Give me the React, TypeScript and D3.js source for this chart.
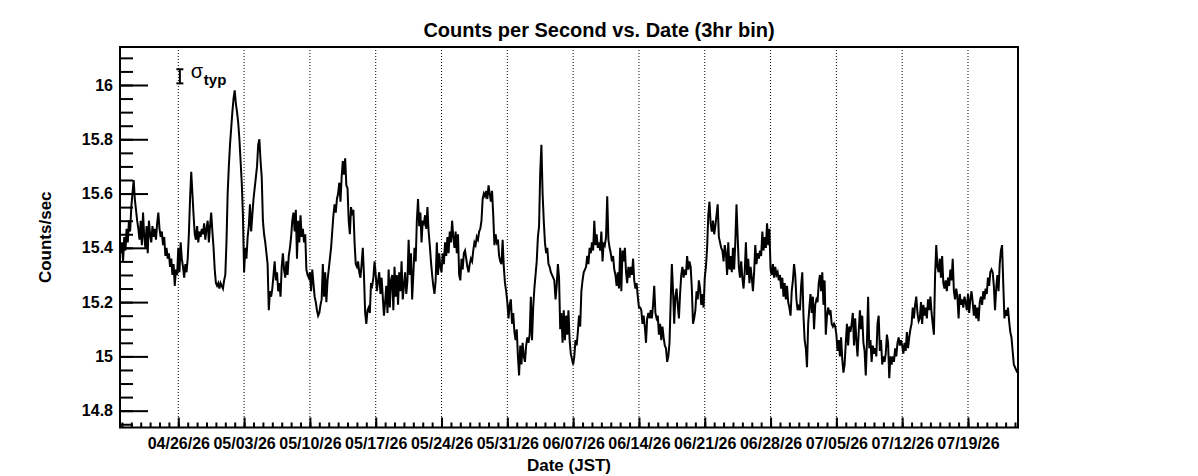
import { useEffect, useRef } from "react"
import * as d3 from "d3"

// first 3hr bin (UTC used as JST wall clock)
const firstBin = Date.UTC(2026, 3, 19, 21)
const binHours = 3
const xDomain = [new Date(Date.UTC(2026, 3, 19, 19, 10)), new Date(Date.UTC(2026, 6, 24, 7, 40))]
const yDomain = [14.738, 16.14]

// counts/sec, one row per day: 00h 03h 06h 09h 12h 15h 18h 21h
const countsPerSec: number[] = [
  15.38, // 04/19 21h
  15.42, 15.35, 15.44, 15.39, 15.47, 15.42, 15.50, 15.46, // 04/20
  15.55, 15.60, 15.65, 15.58, 15.54, 15.50, 15.47, 15.43,
  15.50, 15.41, 15.53, 15.44, 15.40, 15.48, 15.38, 15.50,
  15.45, 15.42, 15.48, 15.44, 15.47, 15.43, 15.49, 15.53,
  15.47, 15.44, 15.46, 15.41, 15.44, 15.37, 15.40, 15.36,
  15.38, 15.33, 15.36, 15.30, 15.34, 15.26, 15.32, 15.30, // 04/25
  15.40, 15.31, 15.42, 15.36, 15.33, 15.29, 15.34, 15.31,
  15.36, 15.45, 15.58, 15.68, 15.60, 15.52, 15.45, 15.43,
  15.48, 15.42, 15.46, 15.44, 15.47, 15.45, 15.49, 15.43,
  15.47, 15.50, 15.42, 15.48, 15.53, 15.46, 15.40, 15.32,
  15.27, 15.26, 15.27, 15.25, 15.27, 15.26, 15.25, 15.28, // 04/30
  15.30, 15.42, 15.60, 15.70, 15.78, 15.84, 15.90, 15.95,
  15.98, 15.93, 15.90, 15.86, 15.80, 15.72, 15.64, 15.52,
  15.31, 15.40, 15.36, 15.44, 15.48, 15.56, 15.46, 15.52,
  15.58, 15.62, 15.66, 15.70, 15.78, 15.80, 15.72, 15.66,
  15.50, 15.45, 15.42, 15.38, 15.34, 15.17, 15.24, 15.22, // 05/05
  15.25, 15.30, 15.35, 15.28, 15.31, 15.24, 15.27, 15.22,
  15.33, 15.38, 15.32, 15.29, 15.35, 15.30, 15.37, 15.40,
  15.44, 15.50, 15.53, 15.46, 15.54, 15.36, 15.50, 15.42,
  15.52, 15.44, 15.47, 15.42, 15.45, 15.32, 15.30, 15.29,
  15.31, 15.24, 15.32, 15.27, 15.22, 15.20, 15.17, 15.15, // 05/10
  15.16, 15.19, 15.21, 15.34, 15.22, 15.31, 15.20, 15.28,
  15.32, 15.36, 15.40, 15.46, 15.52, 15.56, 15.53, 15.58,
  15.60, 15.64, 15.57, 15.66, 15.72, 15.67, 15.73, 15.63,
  15.62, 15.50, 15.45, 15.55, 15.52, 15.54, 15.42, 15.34,
  15.33, 15.35, 15.31, 15.29, 15.34, 15.40, 15.30, 15.16, // 05/15
  15.12, 15.17, 15.18, 15.16, 15.27, 15.26, 15.29, 15.35,
  15.30, 15.24, 15.28, 15.31, 15.23, 15.29, 15.22, 15.15,
  15.20, 15.26, 15.16, 15.32, 15.18, 15.28, 15.30, 15.17,
  15.33, 15.22, 15.30, 15.19, 15.31, 15.24, 15.35, 15.21,
  15.26, 15.31, 15.23, 15.28, 15.43, 15.30, 15.38, 15.21, // 05/20
  15.30, 15.40, 15.35, 15.50, 15.58, 15.48, 15.53, 15.42,
  15.50, 15.49, 15.52, 15.47, 15.55, 15.46, 15.41, 15.35,
  15.30, 15.26, 15.23, 15.28, 15.42, 15.30, 15.38, 15.33,
  15.31, 15.38, 15.34, 15.42, 15.37, 15.44, 15.38, 15.46,
  15.42, 15.50, 15.44, 15.40, 15.46, 15.38, 15.45, 15.30, // 05/25
  15.28, 15.36, 15.32, 15.38, 15.39, 15.36, 15.33, 15.31,
  15.34, 15.36, 15.35, 15.39, 15.42, 15.41, 15.44, 15.43,
  15.46, 15.47, 15.50, 15.58, 15.60, 15.59, 15.61, 15.58,
  15.63, 15.60, 15.57, 15.61, 15.52, 15.41, 15.45, 15.42,
  15.43, 15.37, 15.35, 15.34, 15.43, 15.33, 15.27, 15.24, // 05/30
  15.20, 15.14, 15.19, 15.21, 15.12, 15.16, 15.09, 15.06,
  15.10, 15.00, 14.93, 15.04, 14.97, 15.05, 15.00, 14.98,
  15.04, 15.07, 15.05, 15.08, 15.22, 15.06, 15.18, 15.25,
  15.30, 15.35, 15.44, 15.48, 15.68, 15.78, 15.60, 15.50,
  15.42, 15.38, 15.40, 15.34, 15.33, 15.31, 15.30, 15.29, // 06/04
  15.28, 15.21, 15.26, 15.34, 15.29, 15.10, 15.16, 15.05,
  15.17, 15.06, 15.15, 15.08, 15.17, 15.06, 15.01, 14.99,
  14.97, 15.00, 15.06, 15.04, 15.09, 15.15, 15.11, 15.24,
  15.28, 15.31, 15.32, 15.33, 15.37, 15.34, 15.40, 15.38,
  15.42, 15.39, 15.50, 15.41, 15.45, 15.40, 15.42, 15.39, // 06/09
  15.46, 15.35, 15.42, 15.41, 15.44, 15.59, 15.43, 15.40,
  15.38, 15.35, 15.37, 15.32, 15.30, 15.26, 15.31, 15.25,
  15.40, 15.24, 15.39, 15.35, 15.40, 15.31, 15.27, 15.33,
  15.29, 15.33, 15.30, 15.36, 15.28, 15.25, 15.27, 15.22,
  15.18, 15.18, 15.17, 15.12, 15.15, 15.11, 15.05, 15.14, // 06/14
  15.16, 15.14, 15.17, 15.14, 15.19, 15.26, 15.16, 15.14,
  15.15, 15.08, 15.12, 15.06, 15.11, 15.07, 15.04, 15.03,
  14.98, 15.00, 15.05, 15.20, 15.34, 15.24, 15.12, 15.22,
  15.25, 15.19, 15.14, 15.23, 15.30, 15.33, 15.29, 15.32,
  15.30, 15.37, 15.32, 15.35, 15.33, 15.25, 15.12, 15.14, // 06/19
  15.17, 15.24, 15.21, 15.28, 15.25, 15.19, 15.23, 15.18,
  15.29, 15.33, 15.40, 15.52, 15.57, 15.49, 15.46, 15.50,
  15.45, 15.48, 15.52, 15.56, 15.44, 15.42, 15.40, 15.39,
  15.35, 15.41, 15.38, 15.30, 15.42, 15.32, 15.37, 15.31,
  15.40, 15.32, 15.42, 15.56, 15.44, 15.33, 15.29, 15.35, // 06/24
  15.29, 15.25, 15.31, 15.42, 15.30, 15.36, 15.27, 15.33,
  15.29, 15.24, 15.31, 15.41, 15.34, 15.38, 15.36, 15.39,
  15.37, 15.46, 15.39, 15.44, 15.40, 15.49, 15.41, 15.47,
  15.32, 15.30, 15.34, 15.29, 15.33, 15.30, 15.31, 15.28,
  15.30, 15.25, 15.29, 15.22, 15.27, 15.21, 15.26, 15.20, // 06/29
  15.18, 15.15, 15.24, 15.28, 15.34, 15.30, 15.21, 15.17,
  15.19, 15.17, 15.26, 15.31, 15.15, 15.06, 15.03, 14.96,
  15.12, 15.18, 15.23, 15.16, 15.22, 15.10, 15.19, 15.21,
  15.20, 15.27, 15.30, 15.24, 15.31, 15.19, 15.28, 15.08,
  15.15, 15.18, 15.16, 15.17, 15.12, 15.11, 15.12, 15.11, // 07/04
  15.08, 15.02, 15.06, 15.00, 15.07, 14.99, 14.94, 14.97,
  15.05, 15.12, 15.04, 15.11, 15.09, 15.12, 15.16, 15.04,
  15.14, 15.06, 15.00, 15.09, 15.17, 15.10, 15.15, 15.05,
  15.02, 14.93, 15.05, 15.22, 15.03, 15.06, 14.98, 15.04,
  15.01, 15.03, 15.00, 15.12, 15.15, 15.02, 15.06, 14.97, // 07/09
  15.00, 14.98, 15.01, 15.08, 15.05, 14.92, 15.00, 14.97,
  15.00, 14.98, 15.03, 15.00, 15.05, 15.07, 15.04, 15.06,
  15.04, 15.01, 15.05, 15.02, 15.09, 15.03, 15.07, 15.10,
  15.12, 15.18, 15.14, 15.19, 15.22, 15.16, 15.13, 15.14,
  15.20, 15.12, 15.19, 15.15, 15.18, 15.14, 15.21, 15.17, // 07/14
  15.22, 15.16, 15.12, 15.08, 15.30, 15.41, 15.33, 15.31,
  15.36, 15.29, 15.37, 15.27, 15.25, 15.28, 15.24, 15.29,
  15.26, 15.32, 15.28, 15.36, 15.24, 15.21, 15.25, 15.22,
  15.14, 15.23, 15.19, 15.21, 15.18, 15.22, 15.20, 15.17,
  15.23, 15.16, 15.21, 15.24, 15.20, 15.15, 15.19, 15.14, // 07/19
  15.18, 15.13, 15.20, 15.22, 15.19, 15.24, 15.21, 15.25,
  15.23, 15.29, 15.26, 15.31, 15.32, 15.31, 15.26, 15.17,
  15.25, 15.30, 15.24, 15.34, 15.39, 15.41, 15.27, 15.14,
  15.17, 15.15, 15.18, 15.13, 15.09, 15.07, 15.02, 14.97,
  14.96, 14.95, 14.94, // 07/24
]

const yMajorTicks = [14.8, 15, 15.2, 15.4, 15.6, 15.8, 16]
const yMinorTicks = d3.range(295, 323).map((k) => k * 0.05)
const xTickFormat = "%m/%d/%y"

const sigmaTypCenter = 16.032
const sigmaTypHalf = 0.026
const sigmaTypDate = Date.UTC(2026, 3, 26, 4)

const font = "'Liberation Sans', Arial, Helvetica, sans-serif"

export default function App() {
  const svgRef = useRef<SVGSVGElement>(null)

  useEffect(() => {
    if (!svgRef.current) return

    const width = 1198
    const height = 476
    const margin = { top: 47, right: 180, bottom: 48.5, left: 120 }
    const innerWidth = width - margin.left - margin.right
    const innerHeight = height - margin.top - margin.bottom

    const svg = d3.select(svgRef.current).attr("width", width).attr("height", height)
    svg.selectAll("*").remove()

    svg.append("rect").attr("width", width).attr("height", height).attr("fill", "#fff")

    const g = svg.append("g").attr("transform", `translate(${margin.left},${margin.top})`)

    const xScale = d3.scaleUtc().domain(xDomain).range([0, innerWidth])
    const yScale = d3.scaleLinear().domain(yDomain).range([innerHeight, 0])

    const weeks = d3.utcSunday.range(xDomain[0], xDomain[1])
    const days = d3.utcDay.range(xDomain[0], xDomain[1])

    // dotted vertical grid at the weekly ticks
    g.selectAll(".grid")
      .data(weeks)
      .enter()
      .append("line")
      .attr("x1", (d) => xScale(d))
      .attr("x2", (d) => xScale(d))
      .attr("y1", 0)
      .attr("y2", innerHeight)
      .attr("stroke", "#000")
      .attr("stroke-width", 1)
      .attr("stroke-dasharray", "1,2")

    const points = countsPerSec.map((v, i) => ({ t: new Date(firstBin + i * binHours * 3600e3), v }))
    const line = d3
      .line<{ t: Date; v: number }>()
      .x((d) => xScale(d.t))
      .y((d) => yScale(d.v))

    g.append("path")
      .datum(points)
      .attr("d", line)
      .attr("fill", "none")
      .attr("stroke", "#000")
      .attr("stroke-width", 2)

    const styleAxis = (sel: d3.Selection<SVGGElement, unknown, null, undefined>) => {
      sel.select(".domain").remove()
      sel.selectAll("line").attr("stroke", "#000").attr("stroke-width", 2)
      sel.selectAll("text")
        .attr("fill", "#000")
        .attr("font-family", font)
        .attr("font-weight", "bold")
        .attr("font-size", "16px")
    }

    g.append("g")
      .attr("transform", `translate(0,${innerHeight})`)
      .call(d3.axisBottom(xScale).tickValues(days).tickSize(-5).tickFormat(() => ""))
      .call(styleAxis)

    g.append("g")
      .attr("transform", `translate(0,${innerHeight})`)
      .call(
        d3
          .axisBottom(xScale)
          .tickValues(weeks)
          .tickSize(-10)
          .tickPadding(10.5)
          .tickFormat((d) => d3.utcFormat(xTickFormat)(d as Date))
      )
      .call(styleAxis)

    g.append("g")
      .call(d3.axisLeft(yScale).tickValues(yMinorTicks).tickSize(-13).tickFormat(() => ""))
      .call(styleAxis)

    g.append("g")
      .call(d3.axisLeft(yScale).tickValues(yMajorTicks).tickSize(-28).tickPadding(7).tickFormat(d3.format("~g")))
      .call(styleAxis)

    g.append("rect")
      .attr("width", innerWidth)
      .attr("height", innerHeight)
      .attr("fill", "none")
      .attr("stroke", "#000")
      .attr("stroke-width", 2)

    // sigma_typ marker
    const sx = xScale(new Date(sigmaTypDate))
    const sTop = yScale(sigmaTypCenter + sigmaTypHalf)
    const sBot = yScale(sigmaTypCenter - sigmaTypHalf)
    const sig = g.append("g").attr("stroke", "#000").attr("stroke-width", 2)
    sig.append("line").attr("x1", sx).attr("x2", sx).attr("y1", sTop).attr("y2", sBot)
    sig.append("line").attr("x1", sx - 3.5).attr("x2", sx + 3.5).attr("y1", sTop).attr("y2", sTop)
    sig.append("line").attr("x1", sx - 3.5).attr("x2", sx + 3.5).attr("y1", sBot).attr("y2", sBot)

    g.append("text")
      .attr("x", sx + 11)
      .attr("y", sTop + 9)
      .attr("font-family", font)
      .attr("font-size", "20px")
      .text("σ")
    g.append("text")
      .attr("x", sx + 24)
      .attr("y", sTop + 15.5)
      .attr("font-family", font)
      .attr("font-weight", "bold")
      .attr("font-size", "15px")
      .text("typ")

    // titles
    svg.append("text")
      .attr("x", width / 2)
      .attr("y", 37)
      .attr("text-anchor", "middle")
      .attr("font-family", font)
      .attr("font-weight", "bold")
      .attr("font-size", "20px")
      .text("Counts per Second vs. Date (3hr bin)")

    svg.append("text")
      .attr("x", margin.left + innerWidth / 2)
      .attr("y", 471)
      .attr("text-anchor", "middle")
      .attr("font-family", font)
      .attr("font-weight", "bold")
      .attr("font-size", "17px")
      .text("Date (JST)")

    svg.append("text")
      .attr("transform", `translate(51,${margin.top + innerHeight / 2}) rotate(-90)`)
      .attr("text-anchor", "middle")
      .attr("font-family", font)
      .attr("font-weight", "bold")
      .attr("font-size", "17px")
      .text("Counts/sec")
  }, [])

  return <svg ref={svgRef} style={{ position: "absolute", left: 0, top: 0, display: "block" }} />
}
